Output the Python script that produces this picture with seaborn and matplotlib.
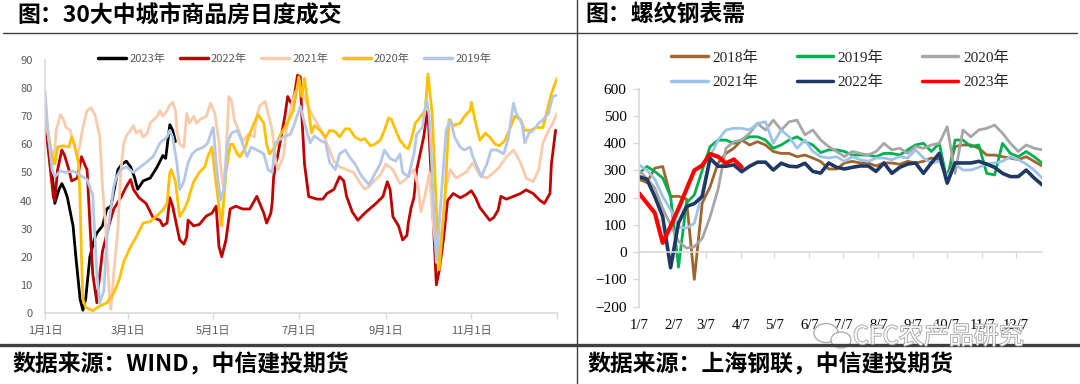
import numpy as np
import pandas as pd
import matplotlib
matplotlib.use("Agg")
import matplotlib.pyplot as plt
import seaborn as sns
from matplotlib.lines import Line2D
from matplotlib.patches import Ellipse
import matplotlib.patheffects as pe

# ============================================
# Left: 30大中城市商品房日度成交 (day of year, value)
# ============================================
DAY_TICKS = [1, 60, 121, 182, 244, 305, 366]
DAY_LABELS = ["1月1日", "3月1日", "5月1日", "7月1日", "9月1日", "11月1日", ""]

y2023_days = [1, 4, 7, 8, 11, 13, 15, 17, 19, 21, 23, 26, 28, 30, 33, 36, 38, 42, 45, 48,
              50, 53, 56, 59, 62, 65, 67, 71, 76, 81, 85, 87, 90, 92, 94]
y2023_vals = [65, 59, 45, 39, 44, 46, 44, 41, 36, 31, 20, 5, 1, 5, 20, 26, 28.5, 31, 37, 38,
              43, 51, 53, 54, 52, 48, 44, 47, 48, 52, 56, 55, 67, 65, 61]

y2022_days = [1, 4, 7, 8, 10, 13, 15, 18, 20, 24, 27, 30, 31, 33, 35, 38, 39, 42, 47, 50,
              55, 59, 62, 64, 66, 68, 73, 78, 83, 85, 88, 90, 92, 97, 100, 102, 103, 107, 111, 116,
              120, 123, 125, 127, 130, 133, 137, 142, 147, 152, 157, 159, 162, 163, 164, 168, 172, 174, 177, 179,
              181, 183, 184, 186, 189, 195, 199, 202, 207, 211, 214, 216, 220, 224, 230, 237, 242, 245, 247, 249,
              253, 256, 259, 260, 262, 264, 266, 268, 271, 273, 274, 280, 282, 285, 288, 292, 297, 301, 305, 308,
              311, 316, 318, 321, 324, 326, 330, 335, 340, 344, 349, 354, 357, 361, 362, 365]
y2022_vals = [68.6, 55, 41, 40, 51, 58, 56, 51, 47, 48, 55.6, 52, 51, 32, 14, 3.6, 9, 22, 32, 37,
              41, 45, 47.5, 44, 42.5, 41, 39, 34, 33, 31, 32, 41, 38, 26, 24.5, 27, 33, 31, 31.5, 34.5,
              35.5, 38, 23.7, 20, 26, 37, 38, 37, 37, 41.5, 35.5, 32, 35.5, 39.5, 48.5, 59, 70, 77, 74, 78,
              84.6, 84, 71, 53, 41.4, 40.5, 40.5, 42.5, 44, 48.5, 47, 41.5, 36, 33, 36, 39, 41.5, 46.7, 44, 34.3,
              31, 26, 27.6, 32, 37.5, 41, 51, 55.6, 62.7, 70, 72, 10, 15, 26, 40, 42.5, 41, 42, 43.5, 41,
              37.5, 34.3, 33, 34, 36.6, 41.5, 40.5, 41.5, 42.5, 43.8, 42.5, 40, 39, 42.5, 53, 65]

y2021_days = [1, 4, 7, 9, 12, 14, 16, 19, 21, 24, 26, 28, 31, 34, 37, 39, 40, 42, 44, 47,
              48, 50, 53, 55, 57, 59, 62, 64, 66, 69, 71, 74, 76, 81, 83, 85, 88, 90, 92, 94,
              95, 97, 100, 102, 104, 107, 109, 112, 116, 119, 122, 125, 126, 128, 130, 132, 134, 136, 139, 142,
              146, 150, 152, 154, 158, 160, 163, 165, 167, 171, 173, 177, 180, 183, 185, 190, 192, 195, 199, 203,
              207, 211, 216, 221, 226, 229, 232, 235, 240, 244, 249, 254, 259, 264, 267, 269, 272, 275, 278, 281,
              284, 287, 290, 294, 301, 306, 311, 316, 321, 325, 330, 335, 340, 344, 349, 353, 356, 360, 363, 366]
y2021_vals = [70, 61, 53, 65, 70.5, 69, 66, 65, 61, 55.6, 60, 66, 72, 73, 70, 65, 63, 45, 32, 5,
              1.4, 14, 30, 50, 60, 63, 65, 66.7, 64, 65, 62.6, 64, 67.5, 70, 72, 70, 72, 74, 75, 72,
              65, 60, 59, 71, 67.5, 70, 67.5, 69, 70, 74.6, 71, 61, 53, 45, 55, 77, 75.6, 68.6, 65, 61,
              63.6, 62.6, 70, 73.6, 75.3, 71, 65, 55.6, 51, 55.6, 65, 74.6, 79, 80, 78, 72, 70, 67.5, 64, 59,
              54, 52, 51, 50, 46, 44, 45, 46.7, 49, 53, 51, 46, 48, 51, 45, 36, 42, 50, 30, 18,
              30, 45, 51, 48, 50, 53.5, 49, 48, 50, 52, 55.6, 58, 53.5, 48, 46.7, 51, 60.5, 65, 67.5, 71]

y2020_days = [1, 3, 6, 8, 10, 14, 18, 20, 22, 25, 26, 27, 28, 30, 35, 40, 45, 50, 54, 57,
              62, 66, 71, 76, 80, 85, 88, 90, 91, 94, 97, 100, 103, 104, 107, 111, 115, 117, 120, 122,
              125, 127, 130, 133, 135, 138, 140, 144, 146, 150, 153, 157, 159, 161, 165, 169, 172, 176, 178, 182,
              184, 186, 189, 191, 193, 197, 201, 204, 208, 211, 215, 218, 222, 226, 229, 233, 236, 240, 243, 246,
              248, 251, 254, 258, 260, 262, 265, 268, 272, 274, 277, 282, 286, 289, 292, 297, 300, 304, 305, 308,
              311, 315, 318, 322, 325, 329, 332, 336, 340, 343, 347, 351, 356, 359, 362, 366]
y2020_vals = [71.6, 65, 55.6, 53, 59, 59.5, 59, 62.6, 60, 53, 40, 20, 5, 2, 0.8, 2.5, 3.6, 7, 12, 18,
              23.6, 27, 32, 32.5, 34.3, 36.6, 39, 50, 51, 46.7, 34.3, 36.6, 40, 42, 46.7, 50, 52, 55.6, 59, 50,
              38, 31, 50, 60, 60, 56.6, 55.6, 59, 62.6, 67.5, 70.5, 67.5, 60, 56.6, 59, 63.6, 66, 70, 72, 84,
              77, 83.5, 72, 64, 66.7, 65, 62.6, 65, 64.5, 62.6, 65.5, 65.5, 62.6, 61.5, 62, 59.5, 60, 61.5, 65, 69.4,
              68.8, 65, 61.5, 59, 58.5, 61.5, 67.5, 69.4, 72, 85, 71, 15.4, 40, 68.8, 66.7, 67.5, 70, 72, 75, 67.5,
              61.5, 64, 62.6, 60, 59.5, 61.5, 65, 70, 68.8, 65, 65, 66, 66, 72, 78, 83.5]

y2019_days = [1, 3, 6, 8, 12, 16, 21, 26, 31, 35, 38, 40, 43, 45, 48, 50, 52, 55, 59, 64,
              69, 73, 78, 83, 88, 90, 92, 95, 97, 100, 103, 106, 109, 114, 117, 120, 121, 123, 126, 129,
              131, 134, 138, 141, 145, 148, 152, 157, 160, 163, 165, 171, 176, 179, 183, 186, 190, 193, 197, 201,
              204, 208, 211, 215, 218, 222, 227, 232, 235, 240, 243, 247, 251, 254, 256, 260, 264, 266, 270, 273,
              275, 280, 284, 287, 290, 293, 297, 300, 304, 306, 310, 312, 316, 319, 323, 328, 331, 335, 337, 341,
              343, 346, 349, 353, 356, 360, 363, 366]
y2019_vals = [79, 65, 51, 48.5, 50.5, 50, 50.5, 49, 47.5, 42, 14, 3.6, 8, 26, 37.6, 45, 48.5, 51, 52, 50,
              52, 53.5, 55.6, 60.5, 62.6, 65, 62.6, 53.5, 44, 46.7, 53.5, 56.6, 58, 59, 60.5, 65, 66, 53.5, 40, 45,
              60.5, 64, 65, 61.5, 55.6, 59, 58, 56.6, 51, 50, 60.5, 62.6, 63.6, 67.5, 73.6, 67.5, 60.5, 63, 61.5, 60.5,
              53.5, 51, 56.6, 58, 55.6, 53, 48.5, 45.6, 48.5, 53, 58, 55, 54, 56.6, 50, 48.5, 56.6, 63.6, 66, 76,
              70, 18, 45, 65, 68.8, 62.6, 59, 58, 59, 55.6, 51, 48.5, 53, 58, 58, 56.6, 61.5, 74.6, 71, 67.5,
              60.5, 64, 65, 67.5, 68.8, 71, 77, 77.5]

LEFT_YEARS = ["2023年", "2022年", "2021年", "2020年", "2019年"]
LEFT_COLORS = ["#000000", "#C00000", "#F8CBAD", "#FFC000", "#B4C7E7"]

# ============================================
# Right: 螺纹钢表需 (weekly, starting 1/7)
# ============================================
MONTH_TICKS = pd.to_datetime([f"2023-{m:02d}-07" for m in range(1, 13)])
MONTH_LABELS = [f"{m}/7" for m in range(1, 13)]
WEEKS = pd.date_range("2023-01-07", periods=52, freq="7D")

s2018 = [267, 255, 308, 314, 204, 205, 195, -100, 180, 240, 326, 362, 381, 411, 393, 405, 393, 369, 362, 362,
         350, 356, 345, 332, 305, 305, 327, 333, 327, 327, 316, 327, 327, 322, 333, 327, 333, 345, 339, 277,
         387, 393, 393, 381, 356, 356, 350, 345, 339, 350, 333, 316]
s2019 = [289, 314, 296, 272, 204, -55, 180, 210, 300, 387, 411, 411, 399, 411, 423, 423, 411, 381, 393, 411,
         423, 405, 393, 365, 375, 375, 369, 356, 356, 356, 350, 362, 362, 356, 375, 393, 399, 369, 399, 259,
         411, 411, 387, 393, 289, 283, 399, 362, 350, 369, 350, 327]
s2020 = [300, 270, 235, 160, 100, 40, 15, 20, 50, 130, 230, 381, 405, 411, 436, 472, 448, 484, 448, 478,
         484, 430, 448, 411, 387, 369, 350, 369, 362, 356, 369, 399, 375, 381, 362, 387, 381, 393, 399, 460,
         289, 448, 423, 448, 454, 466, 436, 399, 369, 393, 381, 375]
s2021 = [320, 301, 267, 204, 155, 93, 88, 106, 216, 350, 411, 448, 454, 454, 448, 472, 478, 399, 448, 423,
         381, 411, 369, 350, 345, 350, 333, 350, 339, 333, 345, 345, 339, 350, 345, 375, 345, 327, 333, 277,
         323, 301, 301, 311, 323, 327, 333, 350, 339, 323, 301, 272]
s2022 = [277, 267, 204, 130, -57, 107, 167, 178, 204, 344, 315, 315, 320, 295, 315, 330, 330, 301, 326, 315,
         313, 326, 296, 290, 327, 311, 305, 311, 316, 316, 296, 327, 289, 311, 323, 327, 289, 327, 362, 253,
         327, 327, 327, 333, 323, 311, 289, 277, 277, 301, 272, 247]
s2023 = [216, 180, 144, 34, 95, 160, 230, 300, 318, 360, 350, 326, 340, 312]

RIGHT_YEARS = ["2018年", "2019年", "2020年", "2021年", "2022年", "2023年"]
RIGHT_COLORS = ["#A0652F", "#00B050", "#A6A6A6", "#9DC3E6", "#1F3864", "#FF0000"]
RIGHT_WIDTHS = [2.0, 2.0, 2.0, 2.0, 2.6, 3.0]

# ============================================
# Style
# ============================================
sns.set_theme(style="white")
plt.rcParams["font.family"] = ["Noto Sans CJK SC", "DejaVu Sans"]
plt.rcParams["axes.unicode_minus"] = True

W, H = 1080, 384
fig = plt.figure(figsize=(W / 100, H / 100), dpi=100)


def fx(px):
    return px / W


def fy(py):
    return 1 - py / H


SERIF = ["Liberation Serif", "Noto Sans CJK SC"]
GRID_GRAY = "#D9D9D9"
TXT_GRAY = "#595959"

# ---------------- left chart ----------------
left_frames = []
for name, d, v in zip(LEFT_YEARS,
                      [y2023_days, y2022_days, y2021_days, y2020_days, y2019_days],
                      [y2023_vals, y2022_vals, y2021_vals, y2020_vals, y2019_vals]):
    left_frames.append(pd.DataFrame({"day": d, "value": v, "year": name}))
df_left = pd.concat(left_frames, ignore_index=True)

axL = fig.add_axes([fx(45), fy(313), fx(557 - 45), (313 - 60) / H])
sns.lineplot(data=df_left, x="day", y="value", hue="year", hue_order=LEFT_YEARS,
             palette=LEFT_COLORS, estimator=None, lw=2.0, legend=False, ax=axL)
axL.set_xlim(1, 366)
axL.set_ylim(0, 90)
axL.set_yticks(range(0, 91, 10))
axL.set_xticks(DAY_TICKS)
axL.set_xticklabels(DAY_LABELS)
axL.set_xlabel("")
axL.set_ylabel("")
for s in ["top", "right"]:
    axL.spines[s].set_visible(False)
for s in ["left", "bottom"]:
    axL.spines[s].set_color(GRID_GRAY)
    axL.spines[s].set_linewidth(1.2)
axL.tick_params(axis="x", direction="out", length=4, width=1, color=GRID_GRAY,
                labelsize=8, labelcolor=TXT_GRAY, pad=5, bottom=True)
axL.tick_params(axis="y", length=0, labelsize=8, labelcolor=TXT_GRAY, pad=9)

hL = [Line2D([], [], color=c, lw=2.5) for c in LEFT_COLORS]
legL = axL.legend(hL, LEFT_YEARS, ncol=5, loc="center", bbox_to_anchor=(0.488, 1.004),
                  frameon=False, fontsize=8, handlelength=2.5, handletextpad=0.3,
                  columnspacing=1.3, borderaxespad=0)
for t in legL.get_texts():
    t.set_color(TXT_GRAY)

# ---------------- right chart ----------------
right_frames = []
for name, v in zip(RIGHT_YEARS, [s2018, s2019, s2020, s2021, s2022, s2023]):
    right_frames.append(pd.DataFrame({"week": WEEKS[:len(v)], "value": v, "year": name}))
df_right = pd.concat(right_frames, ignore_index=True)

axR = fig.add_axes([fx(639), fy(306.7), fx(1042 - 639), (306.7 - 88.5) / H])
for name, c, lw in zip(RIGHT_YEARS, RIGHT_COLORS, RIGHT_WIDTHS):
    sns.lineplot(data=df_right[df_right["year"] == name], x="week", y="value",
                 color=c, lw=lw, estimator=None, legend=False, ax=axR)
axR.set_xlim(WEEKS[0], WEEKS[-1])
axR.set_ylim(-200, 600)
axR.set_yticks(range(-200, 601, 100))
axR.set_xticks(MONTH_TICKS)
axR.set_xticklabels(MONTH_LABELS)
axR.set_xlabel("")
axR.set_ylabel("")
for s in ["top", "right"]:
    axR.spines[s].set_visible(False)
axR.spines["left"].set_color(GRID_GRAY)
axR.spines["left"].set_linewidth(1.2)
axR.spines["bottom"].set_position(("data", 0))
axR.spines["bottom"].set_color(GRID_GRAY)
axR.spines["bottom"].set_linewidth(1.2)
axR.tick_params(axis="x", direction="out", length=4, width=1, color=GRID_GRAY,
                labelsize=10.5, labelcolor="black", pad=44, bottom=True)
axR.tick_params(axis="y", direction="out", length=4, width=1, color=GRID_GRAY,
                labelsize=11, labelcolor="black", pad=5, left=True)
for lab in axR.get_xticklabels() + axR.get_yticklabels():
    lab.set_fontfamily(SERIF)

hR = [Line2D([], [], color=c, lw=2.5) for c in RIGHT_COLORS]
order = [0, 3, 1, 4, 2, 5]
legR = axR.legend([hR[i] for i in order], [RIGHT_YEARS[i] for i in order], ncol=3,
                  loc="center", bbox_to_anchor=(0.499, 1.085), frameon=False,
                  prop={"family": SERIF, "size": 11}, handlelength=2.4, handletextpad=0.3,
                  columnspacing=2.5, labelspacing=0.7, borderaxespad=0)

# ---------------- frame, titles, sources ----------------
DARK = "#404040"
fig.add_artist(Line2D([fx(3), fx(1077)], [fy(33), fy(33)], transform=fig.transFigure,
                      color=DARK, lw=1.0))
fig.add_artist(Line2D([fx(577), fx(577)], [fy(0), fy(384)], transform=fig.transFigure,
                      color=DARK, lw=1.0))
fig.add_artist(Line2D([fx(0), fx(1080)], [fy(345), fy(345)], transform=fig.transFigure,
                      color=DARK, lw=2.4))

fig.text(fx(17), fy(15), "图：30大中城市商品房日度成交", fontsize=16.5, fontweight="bold",
         family=SERIF[::-1], va="center", ha="left", color="black")
fig.text(fx(585), fy(15), "图：螺纹钢表需", fontsize=16.5, fontweight="bold",
         family=SERIF[::-1], va="center", ha="left", color="black")
fig.text(fx(12), fy(365), "数据来源：WIND，中信建投期货", fontsize=16.5, fontweight="bold",
         va="center", ha="left", color="black")
fig.text(fx(587), fy(365), "数据来源：上海钢联，中信建投期货", fontsize=16.5, fontweight="bold",
         va="center", ha="left", color="black")

# watermark: icon + text
for cx, cy, w, h in [(826, 333, 24, 19), (841, 340, 20, 16)]:
    fig.add_artist(Ellipse((fx(cx), fy(cy)), fx(w), h / H, transform=fig.transFigure,
                           facecolor="white", edgecolor="#A0A0A0", lw=1.0, alpha=0.85))
fig.text(fx(853), fy(337), "CFC农产品研究", fontsize=18, color="white", alpha=0.9,
         va="center", ha="left",
         path_effects=[pe.withStroke(linewidth=1.2, foreground="#9A9A9A")])

fig.savefig("out.png", dpi=100)
